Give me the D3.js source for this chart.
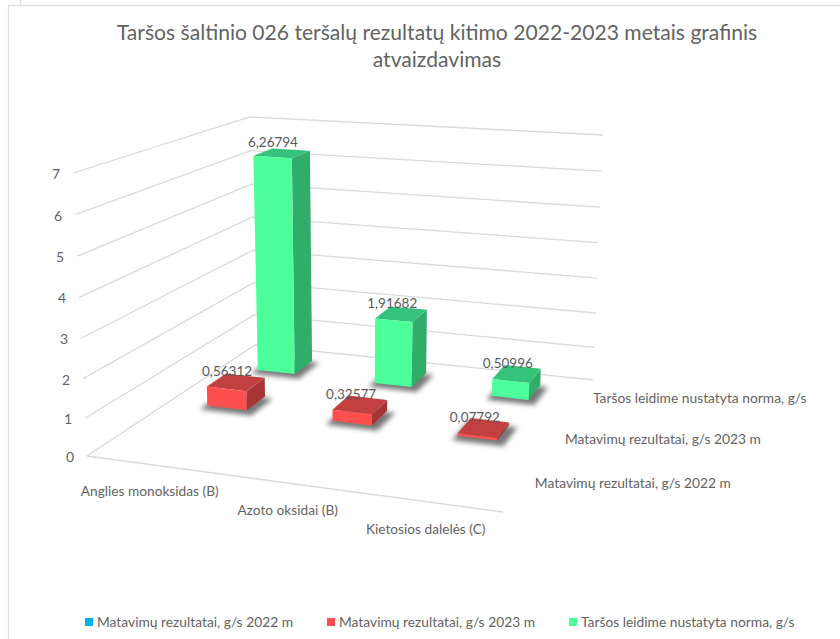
<!DOCTYPE html>
<html>
<head>
<meta charset="utf-8">
<style>
    html, body { margin: 0; padding: 0; background: #fff; }
    svg { display: block; font-family: Lato, "Open Sans", sans-serif; }
</style>
<script src="https://cdn.jsdelivr.net/npm/d3@7"></script>
</head>
<body>
<div id="my_dataviz"></div>
<script>
var title_lines = ["Taršos šaltinio 026 teršalų rezultatų kitimo 2022-2023 metais grafinis", "atvaizdavimas"];
var categories = ["Anglies monoksidas (B)", "Azoto oksidai (B)", "Kietosios dalelės (C)"];
var series_names = ["Matavimų rezultatai, g/s 2022 m", "Matavimų rezultatai, g/s 2023 m", "Taršos leidime nustatyta norma, g/s"];
var values_2022 = [null, null, null];
var values_2023 = [0.56312, 0.32577, 0.07792];
var values_norm = [6.26794, 1.91682, 0.50996];
var value_ticks = [0, 1, 2, 3, 4, 5, 6, 7];

var series_values = [values_2022, values_2023, values_norm];
var colors = [
    { front: "#00b0f0", top: "#0084b4", side: "#00709a" },
    { front: "#ff5050", top: "#c24040", side: "#a63636" },
    { front: "#4dff9b", top: "#35c27b", side: "#2fad69" }
];

var svg = d3.select("#my_dataviz").append("svg")
    .attr("width", 840)
    .attr("height", 639);

// the corners of the 3d box as they land on the page: c[u][v][w]
var c = [
    [[[87, 456], [73, 173]], [[255, 345], [250, 117]]],
    [[[503, 512], [518, 208]], [[593, 380], [603, 135]]]
];

var w_scale = d3.scalePow().exponent(1.035).domain([0, 7]).range([0, 1]);
var u_scale = d3.scaleBand().domain(d3.range(categories.length)).range([-0.015, 0.98]).paddingInner(0.685).paddingOuter(0.3425);
var v_scale = d3.scaleBand().domain(d3.range(series_names.length)).range([0.02, 1.02]).paddingInner(0.625).paddingOuter(0.3125);
var v_warp = d3.scalePow().exponent(0.9).domain([0, 1]).range([0, 1]);

function project(u, v, val) {
    let w = w_scale(val);
    let vv = v_warp(v);
    let p = [0, 1].map(function (i) {
        let a = c[0][0][0][i] * (1 - w) + c[0][0][1][i] * w;
        let b = c[1][0][0][i] * (1 - w) + c[1][0][1][i] * w;
        let d = c[0][1][0][i] * (1 - w) + c[0][1][1][i] * w;
        let e = c[1][1][0][i] * (1 - w) + c[1][1][1][i] * w;
        let front = a * (1 - u) + b * u;
        let back = d * (1 - u) + e * u;
        return front * (1 - vv) + back * vv;
    });
    return p;
}

function poly(points) {
    return points.map(function (p) { return p.join(","); }).join(" ");
}

// frame of the screenshot
svg.append("path")
    .attr("d", "M8.5,639V5.5H840M20.5,0V5")
    .attr("fill", "none")
    .attr("stroke", "#e0e0e0")
    .attr("stroke-width", 1.3);

var defs = svg.append("defs");
defs.append("filter").attr("id", "soft")
    .attr("x", "-40%").attr("y", "-40%").attr("width", "180%").attr("height", "180%")
    .append("feGaussianBlur").attr("stdDeviation", 2.6);

// title
svg.append("g").selectAll("text")
    .data(title_lines)
    .enter()
    .append("text")
    .attr("x", 437)
    .attr("y", function (d, i) { return 40 + i * 27; })
    .attr("text-anchor", "middle")
    .attr("font-size", 21.1)
    .attr("fill", "#636363")
    .text(function (d) { return d; });

// gridlines on the two walls
var grid = svg.append("g")
    .attr("fill", "none")
    .attr("stroke", "#d9d9d9")
    .attr("stroke-width", 1.3);
grid.selectAll("polyline")
    .data(value_ticks)
    .enter()
    .append("polyline")
    .attr("points", function (d) { return poly([project(0, 0, d), project(0, 1, d), project(1, 1, d)]); });
grid.append("polyline")
    .attr("points", poly([project(0, 0, 0), project(1, 0, 0)]));

// value axis labels
svg.append("g").selectAll("text")
    .data(value_ticks)
    .enter()
    .append("text")
    .attr("x", function (d) { return project(0, 0, d)[0] - 17; })
    .attr("y", function (d) { return project(0, 0, d)[1] + 6; })
    .attr("text-anchor", "middle")
    .attr("font-size", 14)
    .attr("fill", "#636363")
    .text(function (d) { return d; });

// category labels
svg.append("g").selectAll("text")
    .data(categories)
    .enter()
    .append("text")
    .attr("x", function (d, i) { return project(u_scale(i) + u_scale.bandwidth() / 2, 0, 0)[0]; })
    .attr("y", function (d, i) { return project(u_scale(i) + u_scale.bandwidth() / 2, 0, 0)[1] + 32; })
    .attr("text-anchor", "middle")
    .attr("font-size", 13.7)
    .attr("fill", "#636363")
    .text(function (d) { return d; });

// series labels along the right edge of the floor
svg.append("g").selectAll("text")
    .data(series_names)
    .enter()
    .append("text")
    .attr("x", function (d, i) { return project(1, v_scale(i) + v_scale.bandwidth() / 2, 0)[0] + 12; })
    .attr("y", function (d, i) { return project(1, v_scale(i) + v_scale.bandwidth() / 2, 0)[1] + 5; })
    .attr("font-size", 13.8)
    .attr("fill", "#636363")
    .text(function (d) { return d; });

// bars, back row first
var fmt = d3.formatLocale({ decimal: ",", thousands: "", grouping: [3], currency: ["", ""] }).format(".5f");
var bars = [];
for (let s = series_names.length - 1; s >= 0; s--) {
    for (let i = 0; i < categories.length; i++) {
        if (series_values[s][i] != null)
            bars.push({ s: s, i: i, value: series_values[s][i] });
    }
}

var bar_groups = svg.append("g").selectAll("g")
    .data(bars)
    .enter()
    .append("g");

function corners(d) {
    let u0 = u_scale(d.i), u1 = u0 + u_scale.bandwidth();
    let v0 = v_scale(d.s), v1 = v0 + v_scale.bandwidth();
    return { u0: u0, u1: u1, v0: v0, v1: v1 };
}

bar_groups.append("polygon")
    .attr("filter", "url(#soft)")
    .attr("fill", "#4a4a4a")
    .attr("opacity", 0.75)
    .attr("points", function (d) {
        let k = corners(d);
        return poly([
            project(k.u0 - 0.005, k.v0 - 0.035, 0),
            project(k.u1 + 0.025, k.v0 - 0.035, 0),
            project(k.u1 + 0.025, k.v1 - 0.01, 0),
            project(k.u0 - 0.005, k.v1 - 0.01, 0)
        ]);
    });
bar_groups.append("polygon")
    .attr("fill", function (d) { return colors[d.s].side; })
    .attr("points", function (d) {
        let k = corners(d);
        return poly([project(k.u1, k.v0, 0), project(k.u1, k.v1, 0), project(k.u1, k.v1, d.value), project(k.u1, k.v0, d.value)]);
    });
bar_groups.append("polygon")
    .attr("fill", function (d) { return colors[d.s].top; })
    .attr("points", function (d) {
        let k = corners(d);
        return poly([project(k.u0, k.v0, d.value), project(k.u1, k.v0, d.value), project(k.u1, k.v1, d.value), project(k.u0, k.v1, d.value)]);
    });
bar_groups.append("polygon")
    .attr("fill", function (d) { return colors[d.s].front; })
    .attr("points", function (d) {
        let k = corners(d);
        return poly([project(k.u0, k.v0, 0), project(k.u1, k.v0, 0), project(k.u1, k.v0, d.value), project(k.u0, k.v0, d.value)]);
    });

// data labels over the bars
svg.append("g").selectAll("text")
    .data(bars)
    .enter()
    .append("text")
    .attr("x", function (d) {
        let k = corners(d);
        return project((k.u0 + k.u1) / 2, (k.v0 + k.v1) / 2, d.value)[0] - 9;
    })
    .attr("y", function (d) {
        let k = corners(d);
        return project((k.u0 + k.u1) / 2, (k.v0 + k.v1) / 2, d.value)[1] - 6;
    })
    .attr("text-anchor", "middle")
    .attr("font-size", 13.5)
    .attr("fill", "#595959")
    .text(function (d) { return fmt(d.value); });

// legend
var legend_x = d3.scaleLinear().domain([0, 2]).range([85, 569]);
var legend = svg.append("g").selectAll("g")
    .data(series_names)
    .enter()
    .append("g")
    .attr("transform", function (d, i) { return "translate(" + legend_x(i) + ",622)"; });
legend.append("rect")
    .attr("x", 0).attr("y", -4)
    .attr("width", 8).attr("height", 8)
    .attr("fill", function (d, i) { return colors[i].front; });
legend.append("text")
    .attr("x", 12)
    .attr("y", 5)
    .attr("font-size", 13.8)
    .attr("fill", "#636363")
    .text(function (d) { return d; });
</script>
</body>
</html>
